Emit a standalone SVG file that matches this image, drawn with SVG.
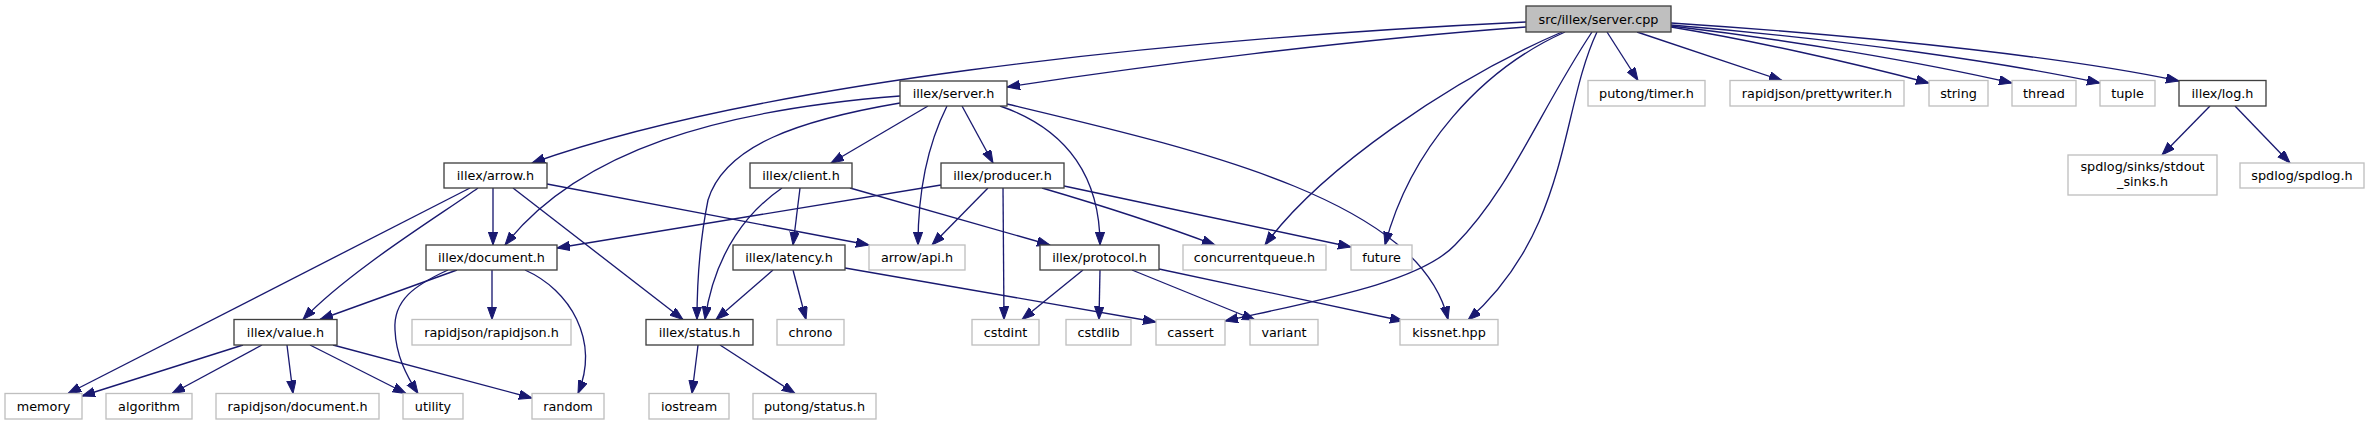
<svg xmlns="http://www.w3.org/2000/svg" width="2370" height="425" viewBox="0 0 2370 425">
<defs>
<marker id="ah" markerUnits="userSpaceOnUse" markerWidth="14" markerHeight="10" refX="13" refY="4.65" orient="auto">
<path d="M0,0 L13,4.65 L0,9.3 Z" fill="#191970" stroke="#191970" stroke-width="1"/>
</marker>
</defs>
<style>
.bg{fill:#ffffff}
.int rect{fill:#ffffff;stroke:#404040;stroke-width:1.33}
.ext rect{fill:#ffffff;stroke:#bfbfbf;stroke-width:1.33}
.root rect{fill:#bfbfbf;stroke:#404040;stroke-width:1.33}
text{font-family:"DejaVu Sans","Liberation Sans",sans-serif;font-size:12.8px;fill:#000000;text-anchor:middle}
#edges path{fill:none;stroke:#191970;stroke-width:1.33;marker-end:url(#ah)}
</style>
<rect class="bg" x="0" y="0" width="2370" height="425"/>
<g id="edges">
<path d="M1526,22 C1150,40 750,85 532,163"/>
<path d="M1526,27 C1350,40 1150,65 1007,87"/>
<path d="M1607,32 L1638,80.5"/>
<path d="M1637,32 L1782,80.5"/>
<path d="M1671,27 C1750,40 1850,62 1929,83"/>
<path d="M1671,26 C1790,40 1920,62 2012,83"/>
<path d="M1671,25 C1850,40 2000,62 2100,83"/>
<path d="M1671,23 C1900,38 2080,60 2179,81"/>
<path d="M1562,32 C1450,80 1320,170 1265,245"/>
<path d="M1565,32 C1480,70 1410,150 1385,245"/>
<path d="M1592,32 C1540,110 1510,190 1455,245 C1420,282 1320,300 1225,321"/>
<path d="M1597,32 C1560,110 1570,230 1468,320"/>
<path d="M2210,106 L2162,155"/>
<path d="M2235,106 L2290,163"/>
<path d="M928,106 L831,163"/>
<path d="M962,106 L993,163"/>
<path d="M947,106 C925,150 918,200 918,245"/>
<path d="M1000,106 C1070,130 1100,180 1100,245"/>
<path d="M1007,104 C1200,150 1420,200 1448,319.5"/>
<path d="M900,96 C720,110 580,150 505,245"/>
<path d="M900,103 C800,120 725,145 708,200 C700,240 697,280 697,319.5"/>
<path d="M800,188 L793,245"/>
<path d="M782,188 C750,210 715,250 705,319.5"/>
<path d="M850,188 L1050,245"/>
<path d="M773,270 L716,319.5"/>
<path d="M793,270 L806,319.5"/>
<path d="M845,268 L1156,322"/>
<path d="M941,185 L557,248"/>
<path d="M988,188 L932,245"/>
<path d="M1003,188 L1004,319.5"/>
<path d="M1042,188 C1100,205 1170,228 1215,245"/>
<path d="M1064,186 L1351,247"/>
<path d="M470,188 L68,393.5"/>
<path d="M478,188 C445,212 350,270 303,319.5"/>
<path d="M493,188 L493,245"/>
<path d="M513,188 L683,319.5"/>
<path d="M547,184 L869,245"/>
<path d="M457,270 L320,319.5"/>
<path d="M492,270 L492,319.5"/>
<path d="M448,270 C415,285 393,300 395,330 C396,355 406,375 418,393.5"/>
<path d="M525,270 C570,290 600,340 578,393.5"/>
<path d="M243,345 L82,396"/>
<path d="M262,345 L172,393.5"/>
<path d="M287,345 L293,393.5"/>
<path d="M310,345 L406,393.5"/>
<path d="M333,345 L532,398"/>
<path d="M698,345 L692,393.5"/>
<path d="M720,345 L795,393.5"/>
<path d="M1083,270 L1022,319.5"/>
<path d="M1100,270 L1099,319.5"/>
<path d="M1132,270 L1255,320"/>
<path d="M1159,269 L1403,321"/>
</g>
<g id="n_root" class="root"><rect x="1526" y="6" width="145" height="26"/><text x="1598.5" y="23.5">src/illex/server.cpp</text></g>
<g id="n_serverh" class="int"><rect x="900" y="81" width="107" height="25"/><text x="953.5" y="98">illex/server.h</text></g>
<g id="n_timer" class="ext"><rect x="1588" y="80.5" width="117" height="25.5"/><text x="1646.5" y="97.8">putong/timer.h</text></g>
<g id="n_pretty" class="ext"><rect x="1730" y="80.5" width="174" height="25.5"/><text x="1817" y="97.8">rapidjson/prettywriter.h</text></g>
<g id="n_string" class="ext"><rect x="1929" y="80.5" width="59" height="25.5"/><text x="1958.5" y="97.8">string</text></g>
<g id="n_thread" class="ext"><rect x="2012" y="80.5" width="64" height="25.5"/><text x="2044" y="97.8">thread</text></g>
<g id="n_tuple" class="ext"><rect x="2100" y="80.5" width="55" height="25.5"/><text x="2127.5" y="97.8">tuple</text></g>
<g id="n_log" class="int"><rect x="2179" y="80.5" width="87" height="25.5"/><text x="2222.5" y="97.8">illex/log.h</text></g>
<g id="n_stdout" class="ext"><rect x="2068" y="155" width="149" height="40"/><text x="2142.5" y="171">spdlog/sinks/stdout</text><text x="2142.5" y="186">_sinks.h</text></g>
<g id="n_spdlog" class="ext"><rect x="2240" y="163" width="124" height="25"/><text x="2302" y="180">spdlog/spdlog.h</text></g>
<g id="n_arrow" class="int"><rect x="444" y="163" width="103" height="25"/><text x="495.5" y="180">illex/arrow.h</text></g>
<g id="n_client" class="int"><rect x="750" y="163" width="102" height="25"/><text x="801" y="180">illex/client.h</text></g>
<g id="n_producer" class="int"><rect x="941" y="163" width="123" height="25"/><text x="1002.5" y="180">illex/producer.h</text></g>
<g id="n_document" class="int"><rect x="426" y="245" width="131" height="25"/><text x="491.5" y="262">illex/document.h</text></g>
<g id="n_latency" class="int"><rect x="733" y="245" width="112" height="25"/><text x="789" y="262">illex/latency.h</text></g>
<g id="n_api" class="ext"><rect x="869" y="245" width="96" height="25"/><text x="917" y="262">arrow/api.h</text></g>
<g id="n_protocol" class="int"><rect x="1040" y="245" width="119" height="25"/><text x="1099.5" y="262">illex/protocol.h</text></g>
<g id="n_cq" class="ext"><rect x="1183" y="245" width="143" height="25"/><text x="1254.5" y="262">concurrentqueue.h</text></g>
<g id="n_future" class="ext"><rect x="1351" y="245" width="61" height="25"/><text x="1381.5" y="262">future</text></g>
<g id="n_value" class="int"><rect x="234" y="319.5" width="103" height="25.5"/><text x="285.5" y="336.8">illex/value.h</text></g>
<g id="n_rapidjson" class="ext"><rect x="412" y="319.5" width="159" height="25.5"/><text x="491.5" y="336.8">rapidjson/rapidjson.h</text></g>
<g id="n_status" class="int"><rect x="646" y="319.5" width="107" height="25.5"/><text x="699.5" y="336.8">illex/status.h</text></g>
<g id="n_chrono" class="ext"><rect x="777" y="319.5" width="67" height="25.5"/><text x="810.5" y="336.8">chrono</text></g>
<g id="n_cstdint" class="ext"><rect x="972" y="319.5" width="67" height="25.5"/><text x="1005.5" y="336.8">cstdint</text></g>
<g id="n_cstdlib" class="ext"><rect x="1066" y="319.5" width="65" height="25.5"/><text x="1098.5" y="336.8">cstdlib</text></g>
<g id="n_cassert" class="ext"><rect x="1156" y="319.5" width="69" height="25.5"/><text x="1190.5" y="336.8">cassert</text></g>
<g id="n_variant" class="ext"><rect x="1250" y="319.5" width="68" height="25.5"/><text x="1284" y="336.8">variant</text></g>
<g id="n_kissnet" class="ext"><rect x="1400" y="319.5" width="98" height="25.5"/><text x="1449" y="336.8">kissnet.hpp</text></g>
<g id="n_memory" class="ext"><rect x="5" y="393.5" width="77" height="25.5"/><text x="43.5" y="410.8">memory</text></g>
<g id="n_algorithm" class="ext"><rect x="106" y="393.5" width="86" height="25.5"/><text x="149" y="410.8">algorithm</text></g>
<g id="n_rjdoc" class="ext"><rect x="216" y="393.5" width="163" height="25.5"/><text x="297.5" y="410.8">rapidjson/document.h</text></g>
<g id="n_utility" class="ext"><rect x="403" y="393.5" width="60" height="25.5"/><text x="433" y="410.8">utility</text></g>
<g id="n_random" class="ext"><rect x="532" y="393.5" width="72" height="25.5"/><text x="568" y="410.8">random</text></g>
<g id="n_iostream" class="ext"><rect x="649" y="393.5" width="80" height="25.5"/><text x="689" y="410.8">iostream</text></g>
<g id="n_pstatus" class="ext"><rect x="753" y="393.5" width="123" height="25.5"/><text x="814.5" y="410.8">putong/status.h</text></g>
</svg>
